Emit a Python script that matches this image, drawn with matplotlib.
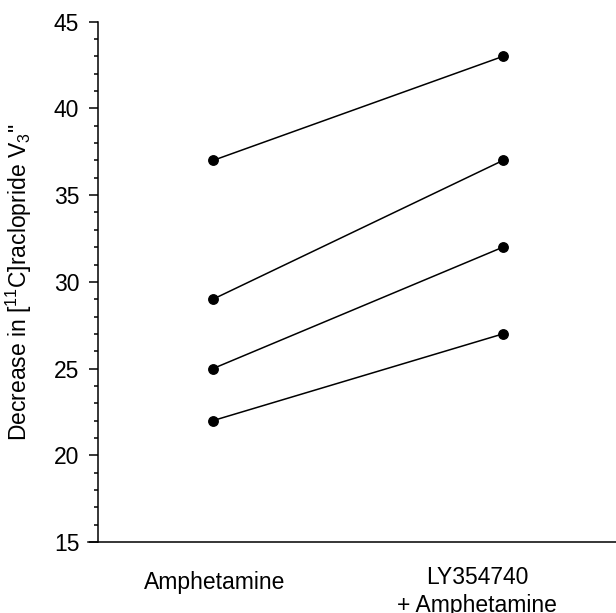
import matplotlib
matplotlib.use("Agg")
from matplotlib import pyplot as plt
from matplotlib.ticker import MultipleLocator
from matplotlib.transforms import ScaledTranslation

conditions = ["Amphetamine", "LY354740\n+ Amphetamine"]
amphetamine = [37, 29, 25, 22]
ly_amphetamine = [43, 37, 32, 27]

plt.rcParams['font.family'] = ['Liberation Sans', 'DejaVu Sans']
plt.rcParams['mathtext.fontset'] = 'custom'
plt.rcParams['mathtext.rm'] = 'Liberation Sans'


def data_plot():
    fig = plt.figure(figsize=(6.16, 6.13), dpi=100)
    ax = fig.add_axes([0.1429, 0.1158, 0.8571, 0.8488])

    x = [0, 1]
    for a, b in zip(amphetamine, ly_amphetamine):
        ax.plot(x, [a, b], color="black", linewidth=1.1, marker="o",
                markersize=6.8, markerfacecolor="black", markeredgecolor="black")

    ax.set_xlim(-0.431, 1.390)
    ax.set_ylim(15, 45)

    ax.spines['top'].set_visible(False)
    ax.spines['right'].set_visible(False)
    ax.spines['left'].set_position(('axes', 10 / 528))
    for s in ('left', 'bottom'):
        ax.spines[s].set_linewidth(1.1)

    ax.yaxis.set_major_locator(MultipleLocator(5))
    ax.yaxis.set_minor_locator(MultipleLocator(1))
    ax.tick_params(axis='y', which='major', direction='out', length=6.5, width=1.1,
                   pad=7, labelsize=16.5)
    ax.tick_params(axis='y', which='minor', direction='out', length=3.2, width=1.1)

    ax.set_xticks(x, conditions)
    ax.tick_params(axis='x', length=0, pad=17, labelsize=16.5)
    labels = ax.get_xticklabels()
    labels[0].set_transform(labels[0].get_transform() +
                            ScaledTranslation(2 / 100, -5 / 100, fig.dpi_scale_trans))
    labels[1].set_transform(labels[1].get_transform() +
                            ScaledTranslation(-26 / 100, 0, fig.dpi_scale_trans))
    for lab in labels:
        lab.set_linespacing(1.3)

    ax.set_ylabel('Decrease in [$\\mathregular{^{11}}$C]raclopride V$\\mathregular{_3}$"',
                  fontsize=16.5)
    ax.yaxis.set_label_coords(-0.102, 0.5)

    plt.savefig('out.png', dpi=100)
    plt.close()


if __name__ == "__main__":
    data_plot()
